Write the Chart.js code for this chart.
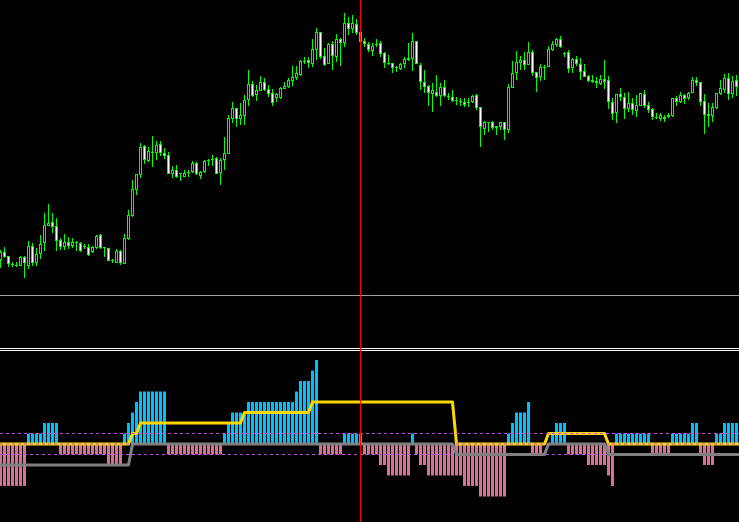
<!DOCTYPE html>
<html><head><meta charset="utf-8">
<script src="https://cdn.jsdelivr.net/npm/chart.js@4.4.1/dist/chart.umd.min.js"></script>
<style>
html,body{margin:0;padding:0;background:#000;overflow:hidden;width:739px;height:522px}
canvas{position:absolute;left:0;display:block}
#main{top:0;width:739px;height:351px}
#ind{top:351px;width:739px;height:171px}
</style></head><body>
<canvas id="main" width="739" height="351"></canvas>
<canvas id="ind" width="739" height="171"></canvas>
<script>
// ---- price bars (one per bar index) ----
const OPEN=[
1.1040,1.1048,1.1044,1.1036,1.1035,1.1034,1.1043,1.1034,1.1054,1.1037,
1.1046,1.1057,1.1074,1.1078,1.1074,1.1060,1.1053,1.1058,1.1054,1.1058,
1.1057,1.1054,1.1053,1.1048,1.1052,1.1065,1.1053,1.1052,1.1040,1.1037,
1.1049,1.1036,1.1061,1.1084,1.1110,1.1125,1.1154,1.1139,1.1148,1.1147,
1.1156,1.1147,1.1145,1.1126,1.1130,1.1127,1.1123,1.1128,1.1128,1.1137,
1.1124,1.1128,1.1140,1.1141,1.1142,1.1127,1.1140,1.1146,1.1181,1.1192,
1.1181,1.1184,1.1200,1.1216,1.1205,1.1209,1.1218,1.1211,1.1207,1.1202,
1.1202,1.1211,1.1213,1.1219,1.1222,1.1225,1.1239,1.1240,1.1236,1.1250,
1.1268,1.1244,1.1236,1.1256,1.1243,1.1261,1.1257,1.1277,1.1271,1.1276,
1.1268,1.1259,1.1256,1.1249,1.1256,1.1257,1.1247,1.1237,1.1237,1.1233,
1.1231,1.1236,1.1242,1.1241,1.1259,1.1235,1.1218,1.1214,1.1206,1.1208,
1.1204,1.1213,1.1204,1.1203,1.1200,1.1199,1.1198,1.1197,1.1198,1.1205,
1.1193,1.1171,1.1178,1.1178,1.1172,1.1173,1.1178,1.1170,1.1212,1.1227,
1.1237,1.1240,1.1235,1.1248,1.1228,1.1223,1.1233,1.1233,1.1250,1.1255,
1.1261,1.1247,1.1248,1.1232,1.1241,1.1236,1.1229,1.1224,1.1220,1.1219,
1.1216,1.1221,1.1220,1.1198,1.1187,1.1206,1.1203,1.1191,1.1197,1.1189,
1.1194,1.1206,1.1195,1.1191,1.1183,1.1181,1.1183,1.1183,1.1184,1.1202,
1.1198,1.1205,1.1202,1.1207,1.1220,1.1218,1.1199,1.1184,1.1184,1.1192,
1.1206,1.1210,1.1222,1.1206,1.1220];
const HIGH=[
1.1050,1.1053,1.1044,1.1038,1.1038,1.1044,1.1044,1.1059,1.1057,1.1052,
1.1065,1.1087,1.1096,1.1087,1.1082,1.1062,1.1066,1.1063,1.1062,1.1059,
1.1058,1.1056,1.1056,1.1054,1.1065,1.1066,1.1053,1.1052,1.1041,1.1051,
1.1050,1.1066,1.1090,1.1120,1.1126,1.1157,1.1155,1.1153,1.1164,1.1159,
1.1159,1.1152,1.1148,1.1134,1.1135,1.1127,1.1130,1.1130,1.1139,1.1138,
1.1129,1.1140,1.1141,1.1145,1.1143,1.1142,1.1163,1.1185,1.1198,1.1192,
1.1197,1.1205,1.1230,1.1219,1.1215,1.1224,1.1222,1.1215,1.1211,1.1207,
1.1213,1.1218,1.1222,1.1234,1.1234,1.1240,1.1243,1.1243,1.1261,1.1272,
1.1268,1.1252,1.1257,1.1259,1.1266,1.1262,1.1287,1.1283,1.1285,1.1281,
1.1270,1.1262,1.1258,1.1257,1.1261,1.1259,1.1248,1.1245,1.1237,1.1234,
1.1237,1.1243,1.1257,1.1267,1.1259,1.1237,1.1230,1.1215,1.1217,1.1225,
1.1217,1.1220,1.1207,1.1210,1.1203,1.1202,1.1202,1.1202,1.1205,1.1206,
1.1193,1.1179,1.1178,1.1179,1.1174,1.1178,1.1178,1.1216,1.1239,1.1249,
1.1244,1.1248,1.1258,1.1250,1.1228,1.1236,1.1235,1.1254,1.1259,1.1262,
1.1264,1.1248,1.1250,1.1242,1.1244,1.1242,1.1236,1.1225,1.1225,1.1223,
1.1225,1.1240,1.1224,1.1202,1.1206,1.1212,1.1207,1.1208,1.1202,1.1205,
1.1207,1.1210,1.1198,1.1192,1.1187,1.1187,1.1185,1.1187,1.1202,1.1204,
1.1208,1.1206,1.1208,1.1223,1.1223,1.1218,1.1206,1.1197,1.1197,1.1207,
1.1220,1.1226,1.1227,1.1224,1.1225];
const LOW=[
1.1032,1.1042,1.1033,1.1033,1.1033,1.1034,1.1022,1.1031,1.1034,1.1034,
1.1041,1.1049,1.1074,1.1067,1.1049,1.1050,1.1050,1.1051,1.1052,1.1049,
1.1048,1.1051,1.1044,1.1047,1.1051,1.1051,1.1043,1.1039,1.1037,1.1037,
1.1035,1.1036,1.1060,1.1083,1.1105,1.1122,1.1136,1.1138,1.1133,1.1140,
1.1144,1.1141,1.1126,1.1122,1.1122,1.1119,1.1123,1.1123,1.1127,1.1125,
1.1121,1.1127,1.1134,1.1134,1.1126,1.1115,1.1130,1.1146,1.1177,1.1173,
1.1175,1.1175,1.1194,1.1203,1.1199,1.1209,1.1209,1.1203,1.1194,1.1198,
1.1201,1.1211,1.1212,1.1214,1.1220,1.1224,1.1236,1.1232,1.1233,1.1240,
1.1241,1.1234,1.1236,1.1230,1.1238,1.1234,1.1253,1.1265,1.1267,1.1265,
1.1256,1.1253,1.1248,1.1244,1.1253,1.1243,1.1232,1.1235,1.1227,1.1228,
1.1230,1.1232,1.1239,1.1229,1.1236,1.1210,1.1207,1.1194,1.1188,1.1203,
1.1194,1.1203,1.1200,1.1198,1.1195,1.1194,1.1193,1.1193,1.1197,1.1190,
1.1153,1.1165,1.1168,1.1170,1.1165,1.1170,1.1160,1.1167,1.1212,1.1220,
1.1230,1.1230,1.1235,1.1224,1.1208,1.1219,1.1220,1.1233,1.1249,1.1253,
1.1252,1.1243,1.1227,1.1227,1.1234,1.1220,1.1223,1.1218,1.1217,1.1212,
1.1215,1.1211,1.1191,1.1180,1.1177,1.1199,1.1181,1.1188,1.1185,1.1183,
1.1194,1.1192,1.1187,1.1180,1.1181,1.1179,1.1178,1.1182,1.1183,1.1194,
1.1197,1.1196,1.1200,1.1207,1.1214,1.1194,1.1166,1.1173,1.1178,1.1191,
1.1205,1.1207,1.1200,1.1202,1.1204];
const CLOSE=[
1.1048,1.1043,1.1036,1.1035,1.1034,1.1043,1.1037,1.1054,1.1037,1.1046,
1.1056,1.1075,1.1077,1.1073,1.1059,1.1053,1.1058,1.1054,1.1058,1.1057,
1.1049,1.1053,1.1045,1.1053,1.1064,1.1052,1.1052,1.1039,1.1039,1.1049,
1.1037,1.1062,1.1085,1.1111,1.1126,1.1153,1.1140,1.1149,1.1147,1.1155,
1.1147,1.1144,1.1126,1.1130,1.1123,1.1126,1.1127,1.1127,1.1137,1.1126,
1.1128,1.1139,1.1139,1.1140,1.1126,1.1140,1.1147,1.1182,1.1192,1.1181,
1.1185,1.1200,1.1216,1.1204,1.1210,1.1218,1.1210,1.1206,1.1197,1.1206,
1.1212,1.1214,1.1220,1.1223,1.1227,1.1239,1.1238,1.1237,1.1251,1.1268,
1.1243,1.1235,1.1256,1.1244,1.1261,1.1257,1.1277,1.1271,1.1277,1.1267,
1.1258,1.1256,1.1250,1.1254,1.1255,1.1246,1.1237,1.1236,1.1232,1.1232,
1.1236,1.1241,1.1240,1.1259,1.1236,1.1218,1.1213,1.1207,1.1210,1.1204,
1.1213,1.1204,1.1203,1.1199,1.1199,1.1198,1.1195,1.1198,1.1204,1.1192,
1.1173,1.1178,1.1177,1.1172,1.1174,1.1178,1.1170,1.1213,1.1227,1.1238,
1.1240,1.1235,1.1248,1.1227,1.1222,1.1233,1.1232,1.1251,1.1256,1.1261,
1.1253,1.1246,1.1231,1.1241,1.1236,1.1228,1.1223,1.1219,1.1218,1.1217,
1.1221,1.1218,1.1198,1.1186,1.1206,1.1203,1.1191,1.1197,1.1190,1.1195,
1.1207,1.1194,1.1190,1.1183,1.1182,1.1185,1.1181,1.1185,1.1202,1.1198,
1.1205,1.1201,1.1207,1.1220,1.1217,1.1198,1.1185,1.1186,1.1193,1.1207,
1.1212,1.1222,1.1206,1.1219,1.1213];

// ---- indicator window ----
const HIST=[
-4,-4,-4,-4,-4,-4,-4,1,1,1,
1,2,2,2,2,-1,-1,-1,-1,-1,
-1,-1,-1,-1,-1,-1,-1,-2,-2,-2,
-2,1,2,3,4,5,5,5,5,5,
5,5,-1,-1,-1,-1,-1,-1,-1,-1,
-1,-1,-1,-1,-1,-1,1,2,3,3,
3,3,4,4,4,4,4,4,4,4,
4,4,4,4,5,6,6,6,7,8,
-1,-1,-1,-1,-1,-1,1,1,1,1,
1,-1,-1,-1,-1,-2,-2,-3,-3,-3,
-3,-3,-3,1,-1,-2,-2,-3,-3,-3,
-3,-3,-3,-3,-3,-3,-4,-4,-4,-4,
-5,-5,-5,-5,-5,-5,-5,1,2,3,
3,3,4,-1,-1,-1,0,0,1,2,
2,2,-1,-1,-1,-1,-1,-2,-2,-2,
-2,-2,-3,-4,1,1,1,1,1,1,
1,1,1,-1,-1,-1,-1,-1,1,1,
1,1,1,2,2,-1,-2,-2,-2,1,
1,2,2,2,2];
const UPPER=[
0,0,0,0,0,0,0,0,0,0,
0,0,0,0,0,0,0,0,0,0,
0,0,0,0,0,0,0,0,0,0,
0,0,0,1,1,2,2,2,2,2,
2,2,2,2,2,2,2,2,2,2,
2,2,2,2,2,2,2,2,2,2,
2,3,3,3,3,3,3,3,3,3,
3,3,3,3,3,3,3,3,4,4,
4,4,4,4,4,4,4,4,4,4,
4,4,4,4,4,4,4,4,4,4,
4,4,4,4,4,4,4,4,4,4,
4,4,4,4,0,0,0,0,0,0,
0,0,0,0,0,0,0,0,0,0,
0,0,0,0,0,0,0,1,1,1,
1,1,1,1,1,1,1,1,1,1,
1,1,0,0,0,0,0,0,0,0,
0,0,0,0,0,0,0,0,0,0,
0,0,0,0,0,0,0,0,0,0,
0,0,0,0,0,0];
const LOWER=[
-2,-2,-2,-2,-2,-2,-2,-2,-2,-2,
-2,-2,-2,-2,-2,-2,-2,-2,-2,-2,
-2,-2,-2,-2,-2,-2,-2,-2,-2,-2,
-2,-2,-2,0,0,0,0,0,0,0,
0,0,0,0,0,0,0,0,0,0,
0,0,0,0,0,0,0,0,0,0,
0,0,0,0,0,0,0,0,0,0,
0,0,0,0,0,0,0,0,0,0,
0,0,0,0,0,0,0,0,0,0,
0,0,0,0,0,0,0,0,0,0,
0,0,0,0,0,0,0,0,0,0,
0,0,0,0,-1,-1,-1,-1,-1,-1,
-1,-1,-1,-1,-1,-1,-1,-1,-1,-1,
-1,-1,-1,-1,-1,-1,-1,0,0,0,
0,0,0,0,0,0,0,0,0,0,
0,0,-1,-1,-1,-1,-1,-1,-1,-1,
-1,-1,-1,-1,-1,-1,-1,-1,-1,-1,
-1,-1,-1,-1,-1,-1,-1,-1,-1,-1,
-1,-1,-1,-1,-1,-1];
const LEVELS=[1,0,-1];
const HLINE_PRICE=1.1005;   // horizontal line object
const MARKER_BAR=90;        // vertical line object
const PRICE_MIN=1.0953, PRICE_MAX=1.1300;
const IND_MIN=-7.4286, IND_MAX=8.8571;
const X_MIN=-0.125, X_MAX=184.625;

const idx = OPEN.map((_, i) => i);
const wickData = idx.map(i => ({x: i, y: [LOW[i], HIGH[i]]}));
const bodyData = idx.map(i => ({x: i, y: [OPEN[i], CLOSE[i]]}));
const bodyFill = idx.map(i => CLOSE[i] > OPEN[i] ? '#000000' : '#ffffff');

const markerPlugin = {
  id: 'marker',
  afterDraw(chart) {
    const {ctx, height, scales: {x}} = chart;
    const px = Math.floor(x.getPixelForValue(MARKER_BAR));
    ctx.save();
    if (chart.canvas.id === 'main') {
      ctx.fillStyle = '#ffffff';
      ctx.fillRect(0, height - 3, chart.width, 1);
      ctx.fillRect(0, height - 1, chart.width, 1);
    }
    ctx.fillStyle = '#ff0000';
    ctx.fillRect(px, 0, 1, height);
    ctx.restore();
  }
};
const hlinePlugin = {
  id: 'hline',
  beforeDatasetsDraw(chart) {
    const {ctx, chartArea: a, scales: {y}} = chart;
    const py = Math.round(y.getPixelForValue(HLINE_PRICE)) + 0.5;
    ctx.save();
    ctx.strokeStyle = '#a0a0a0';
    ctx.lineWidth = 1;
    ctx.beginPath(); ctx.moveTo(a.left, py); ctx.lineTo(a.right, py); ctx.stroke();
    ctx.restore();
  }
};

const common = {
  responsive: false, animation: false, devicePixelRatio: 1, events: [],
  plugins: {legend: {display: false}, tooltip: {enabled: false}},
};

new Chart(document.getElementById('main'), {
  type: 'bar',
  data: {datasets: [
    {data: wickData, backgroundColor: '#00ff00', borderWidth: 0, barThickness: 1,
     grouped: false, order: 2, inflateAmount: 0},
    {data: bodyData, backgroundColor: bodyFill, borderColor: '#00ff00', borderWidth: 1,
     borderSkipped: false, barThickness: 3, grouped: false, order: 1, inflateAmount: 0}
  ]},
  options: Object.assign({}, common, {
    layout: {padding: {left: 0, right: 0, top: 0, bottom: 4}},
    scales: {
      x: {type: 'linear', min: X_MIN, max: X_MAX, display: false, offset: false},
      y: {type: 'linear', min: PRICE_MIN, max: PRICE_MAX, display: false}
    }
  }),
  plugins: [hlinePlugin, markerPlugin]
});

const lineStyle = {type: 'line', pointRadius: 0, borderWidth: 3, tension: 0,
  borderJoinStyle: 'round', borderCapStyle: 'round', fill: false};

new Chart(document.getElementById('ind'), {
  type: 'bar',
  data: {datasets: [
    {data: idx.map(i => ({x: i, y: HIST[i]})),
     backgroundColor: HIST.map(v => v > 0 ? '#00bfff' : '#db7093'),
     borderWidth: 0, barThickness: 3, grouped: false, order: 4, inflateAmount: 0},
    Object.assign({}, lineStyle, {data: UPPER.map((v, i) => ({x: i, y: v})), borderColor: '#ffd700', order: 3}),
    ...LEVELS.map(l => ({type: 'line', data: [{x: X_MIN, y: l}, {x: X_MAX, y: l}],
      borderColor: '#ba55d3', borderWidth: 1, borderDash: [3, 3], pointRadius: 0, order: 2})),
    Object.assign({}, lineStyle, {data: LOWER.map((v, i) => ({x: i, y: v})), borderColor: '#808080', order: 1})
  ]},
  options: Object.assign({}, common, {
    layout: {padding: 0},
    scales: {
      x: {type: 'linear', min: X_MIN, max: X_MAX, display: false, offset: false},
      y: {type: 'linear', min: IND_MIN, max: IND_MAX, display: false}
    }
  }),
  plugins: [markerPlugin]
});
</script>
</body></html>
